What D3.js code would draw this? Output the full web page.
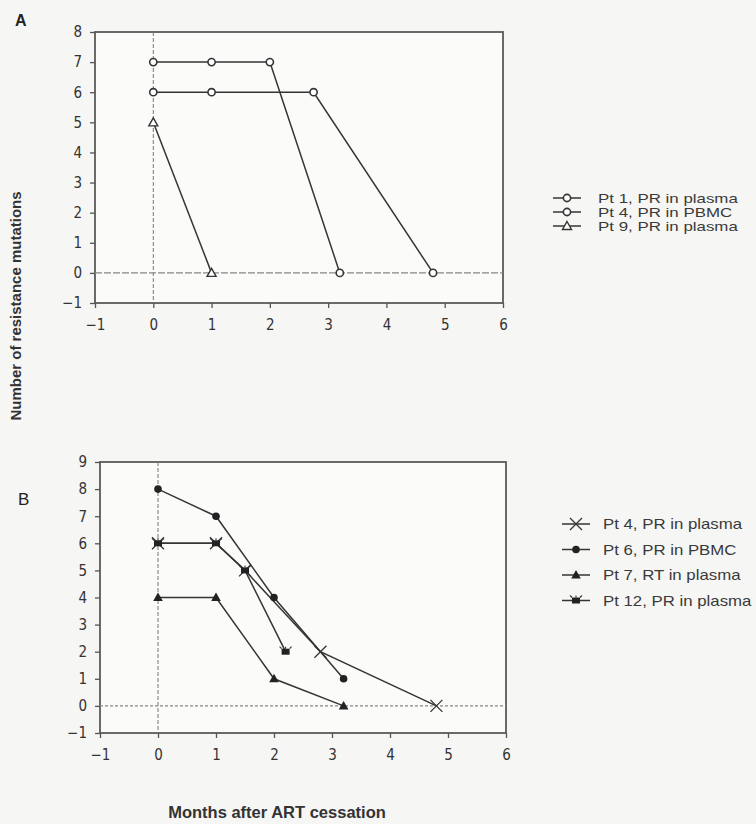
<!DOCTYPE html>
<html>
<head>
<meta charset="utf-8">
<script src="https://cdn.jsdelivr.net/npm/d3@7"></script>
<style>
  body { margin: 0; background: #f6f6f4; }
  svg { display: block; }
  .legend text { font-family: "Liberation Sans", Arial, sans-serif; fill: #3a3a3a; }
  .title { font-family: "Liberation Sans", Arial, sans-serif; font-weight: bold; fill: #333; }
</style>
</head>
<body>
<div id="chart"></div>
<script>
// tick labels
var xTicks = [-1, 0, 1, 2, 3, 4, 5, 6];
var yTicksA = [-1, 0, 1, 2, 3, 4, 5, 6, 7, 8];
var yTicksB = [-1, 0, 1, 2, 3, 4, 5, 6, 7, 8, 9];

// panel A series (months after ART cessation, number of mutations)
var pt1A_x = [0, 1, 2, 3.2];
var pt1A_y = [7, 7, 7, 0];
var pt4A_x = [0, 1, 2.75, 4.8];
var pt4A_y = [6, 6, 6, 0];
var pt9A_x = [0, 1];
var pt9A_y = [5, 0];

// panel B series
var pt4B_x = [0, 1, 1.5, 2.8, 4.8];
var pt4B_y = [6, 6, 5, 2, 0];
var pt6B_x = [0, 1, 2, 3.2];
var pt6B_y = [8, 7, 4, 1];
var pt7B_x = [0, 1, 2, 3.2];
var pt7B_y = [4, 4, 1, 0];
var pt12B_x = [0, 1, 1.5, 2.2];
var pt12B_y = [6, 6, 5, 2];

var namesA = ["Pt 1, PR in plasma", "Pt 4, PR in PBMC", "Pt 9, PR in plasma"];
var namesB = ["Pt 4, PR in plasma", "Pt 6, PR in PBMC", "Pt 7, RT in plasma", "Pt 12, PR in plasma"];

var w = 756;
var h = 824;
var ink = "#353535";

var svg = d3.select("#chart")
  .append("svg")
    .attr("width", w)
    .attr("height", h);

function zip(xs, ys) {
  return xs.map(function(x, i) { return [x, ys[i]]; });
}

// draws one marker at 0,0 inside g
function marker(g, kind) {
  if (kind == "circle") {
    g.append("circle").attr("r", 3.6).attr("fill", "#fff").attr("stroke", ink).attr("stroke-width", 1.6);
  } else if (kind == "triangle") {
    g.append("path").attr("d", "M0,-4.5L4.5,3.5L-4.5,3.5Z").attr("fill", "#fff").attr("stroke", ink).attr("stroke-width", 1.4);
  } else if (kind == "dot") {
    g.append("circle").attr("r", 3.8).attr("fill", "#222");
  } else if (kind == "solidtri") {
    g.append("path").attr("d", "M0,-5L4.8,3.5L-4.8,3.5Z").attr("fill", "#222");
  } else if (kind == "x") {
    g.append("path").attr("d", "M-6,-6L6,6M-6,6L6,-6").attr("stroke", ink).attr("stroke-width", 1.3);
  } else if (kind == "star") {
    g.append("rect").attr("x", -4).attr("y", -3).attr("width", 8).attr("height", 6).attr("fill", "#222");
    g.append("path").attr("d", "M-4,-3L-6,-5M4,-3L6,-5M0,-3L0,-5").attr("stroke", ink).attr("stroke-width", 1.1);
  }
}

function styleAxis(g) {
  g.select(".domain").remove();
  g.selectAll(".tick line").attr("stroke", "#555").attr("stroke-width", 1.3);
  g.selectAll(".tick text")
      .style("font-family", "'DejaVu Sans Condensed', 'Liberation Sans Narrow', sans-serif")
      .style("font-size", "15px")
      .attr("fill", "#333")
      .text(d => d < 0 ? "\u2212" + Math.abs(d) : d);
}

function drawPanel(p) {
  var xScale = d3.scaleLinear().domain([-1, 6]).range([p.left, p.right]);
  var yScale = d3.scaleLinear().domain([-1, p.ymax]).range([p.bottom, p.top]);

  svg.append("rect")
      .attr("x", p.left)
      .attr("y", p.top)
      .attr("width", p.right - p.left)
      .attr("height", p.bottom - p.top)
      .attr("fill", "#fbfbfa")
      .attr("stroke", "#5a5a5a")
      .attr("stroke-width", 1.8);

  // zero reference lines
  svg.append("line")
      .attr("x1", xScale(0)).attr("x2", xScale(0))
      .attr("y1", p.top).attr("y2", p.bottom)
      .attr("stroke", "#777").attr("stroke-width", 1).attr("stroke-dasharray", "4,2");
  svg.append("line")
      .attr("x1", p.left).attr("x2", p.right)
      .attr("y1", yScale(0)).attr("y2", yScale(0))
      .attr("stroke", "#888").attr("stroke-width", 1.3).attr("stroke-dasharray", p.dash);

  var xAxis = d3.axisBottom(xScale).tickValues(xTicks).tickSize(5).tickSizeOuter(0).tickPadding(11);
  var yAxis = d3.axisLeft(yScale).tickValues(p.yTicks).tickSize(5).tickSizeOuter(0).tickPadding(8);
  svg.append("g")
      .attr("class", "xAxis")
      .attr("transform", `translate (0, ${p.bottom})`)
      .call(xAxis)
      .call(styleAxis);
  svg.append("g")
      .attr("class", "yAxis")
      .attr("transform", `translate (${p.left}, 0)`)
      .call(yAxis)
      .call(styleAxis);

  var line = d3.line().x(d => xScale(d[0])).y(d => yScale(d[1]));

  p.series.forEach(function(s) {
    var pts = zip(s.x, s.y);
    svg.append("path")
        .attr("d", line(pts))
        .attr("fill", "none")
        .attr("stroke", ink)
        .attr("stroke-width", 1.5);
    svg.append("g").selectAll("g")
      .data(pts)
      .enter().append("g")
        .attr("transform", d => `translate(${xScale(d[0])},${yScale(d[1])})`)
        .each(function() { marker(d3.select(this), s.kind); });
  });

  // legend
  var leg = svg.append("g").attr("class", "legend");
  p.series.forEach(function(s, i) {
    var y = p.legY + i * p.legStep;
    leg.append("line")
        .attr("x1", p.legX).attr("x2", p.legX + p.legLine)
        .attr("y1", y).attr("y2", y)
        .attr("stroke", ink).attr("stroke-width", 1.5);
    var m = leg.append("g").attr("transform", `translate(${p.legX + p.legLine / 2},${y})`);
    marker(m, s.kind);
    leg.append("text")
        .attr("transform", `translate(${p.legTextX},${y}) scale(${p.legScale},1)`)
        .attr("dy", "0.36em")
        .style("font-size", p.legFont + "px")
        .text(s.name);
  });

  svg.append("text")
      .attr("x", p.labelX)
      .attr("y", p.labelY)
      .attr("dy", "0.36em")
      .style("font-family", "Liberation Sans, Arial, sans-serif")
      .style("font-weight", p.labelBold)
      .style("font-size", p.labelFont + "px")
      .attr("fill", "#222")
      .text(p.label);
}

drawPanel({
  left: 95, right: 503, top: 32, bottom: 303, ymax: 8, yTicks: yTicksA, dash: "7,2",
  series: [
    {x: pt1A_x, y: pt1A_y, kind: "circle", name: namesA[0]},
    {x: pt4A_x, y: pt4A_y, kind: "circle", name: namesA[1]},
    {x: pt9A_x, y: pt9A_y, kind: "triangle", name: namesA[2]}
  ],
  legX: 553, legLine: 28, legTextX: 598, legY: 198, legStep: 14, legFont: 13, legScale: 1.3,
  label: "A", labelX: 15, labelY: 20, labelBold: "bold", labelFont: 16
});

drawPanel({
  left: 100, right: 506, top: 462, bottom: 733, ymax: 9, yTicks: yTicksB, dash: "3,2",
  series: [
    {x: pt4B_x, y: pt4B_y, kind: "x", name: namesB[0]},
    {x: pt6B_x, y: pt6B_y, kind: "dot", name: namesB[1]},
    {x: pt7B_x, y: pt7B_y, kind: "solidtri", name: namesB[2]},
    {x: pt12B_x, y: pt12B_y, kind: "star", name: namesB[3]}
  ],
  legX: 562, legLine: 28, legTextX: 603, legY: 524, legStep: 25.5, legFont: 14, legScale: 1.2,
  label: "B", labelX: 18, labelY: 499, labelBold: "normal", labelFont: 17
});

// axis titles
svg.append("text")
    .attr("class", "title")
    .attr("transform", "translate(16,306) rotate(-90)")
    .attr("dy", "0.36em")
    .style("text-anchor", "middle")
    .style("font-size", "15px")
    .text("Number of resistance mutations");
svg.append("text")
    .attr("class", "title")
    .attr("x", 277)
    .attr("y", 812)
    .attr("dy", "0.36em")
    .style("text-anchor", "middle")
    .style("font-size", "16.5px")
    .text("Months after ART cessation");
</script>
</body>
</html>
